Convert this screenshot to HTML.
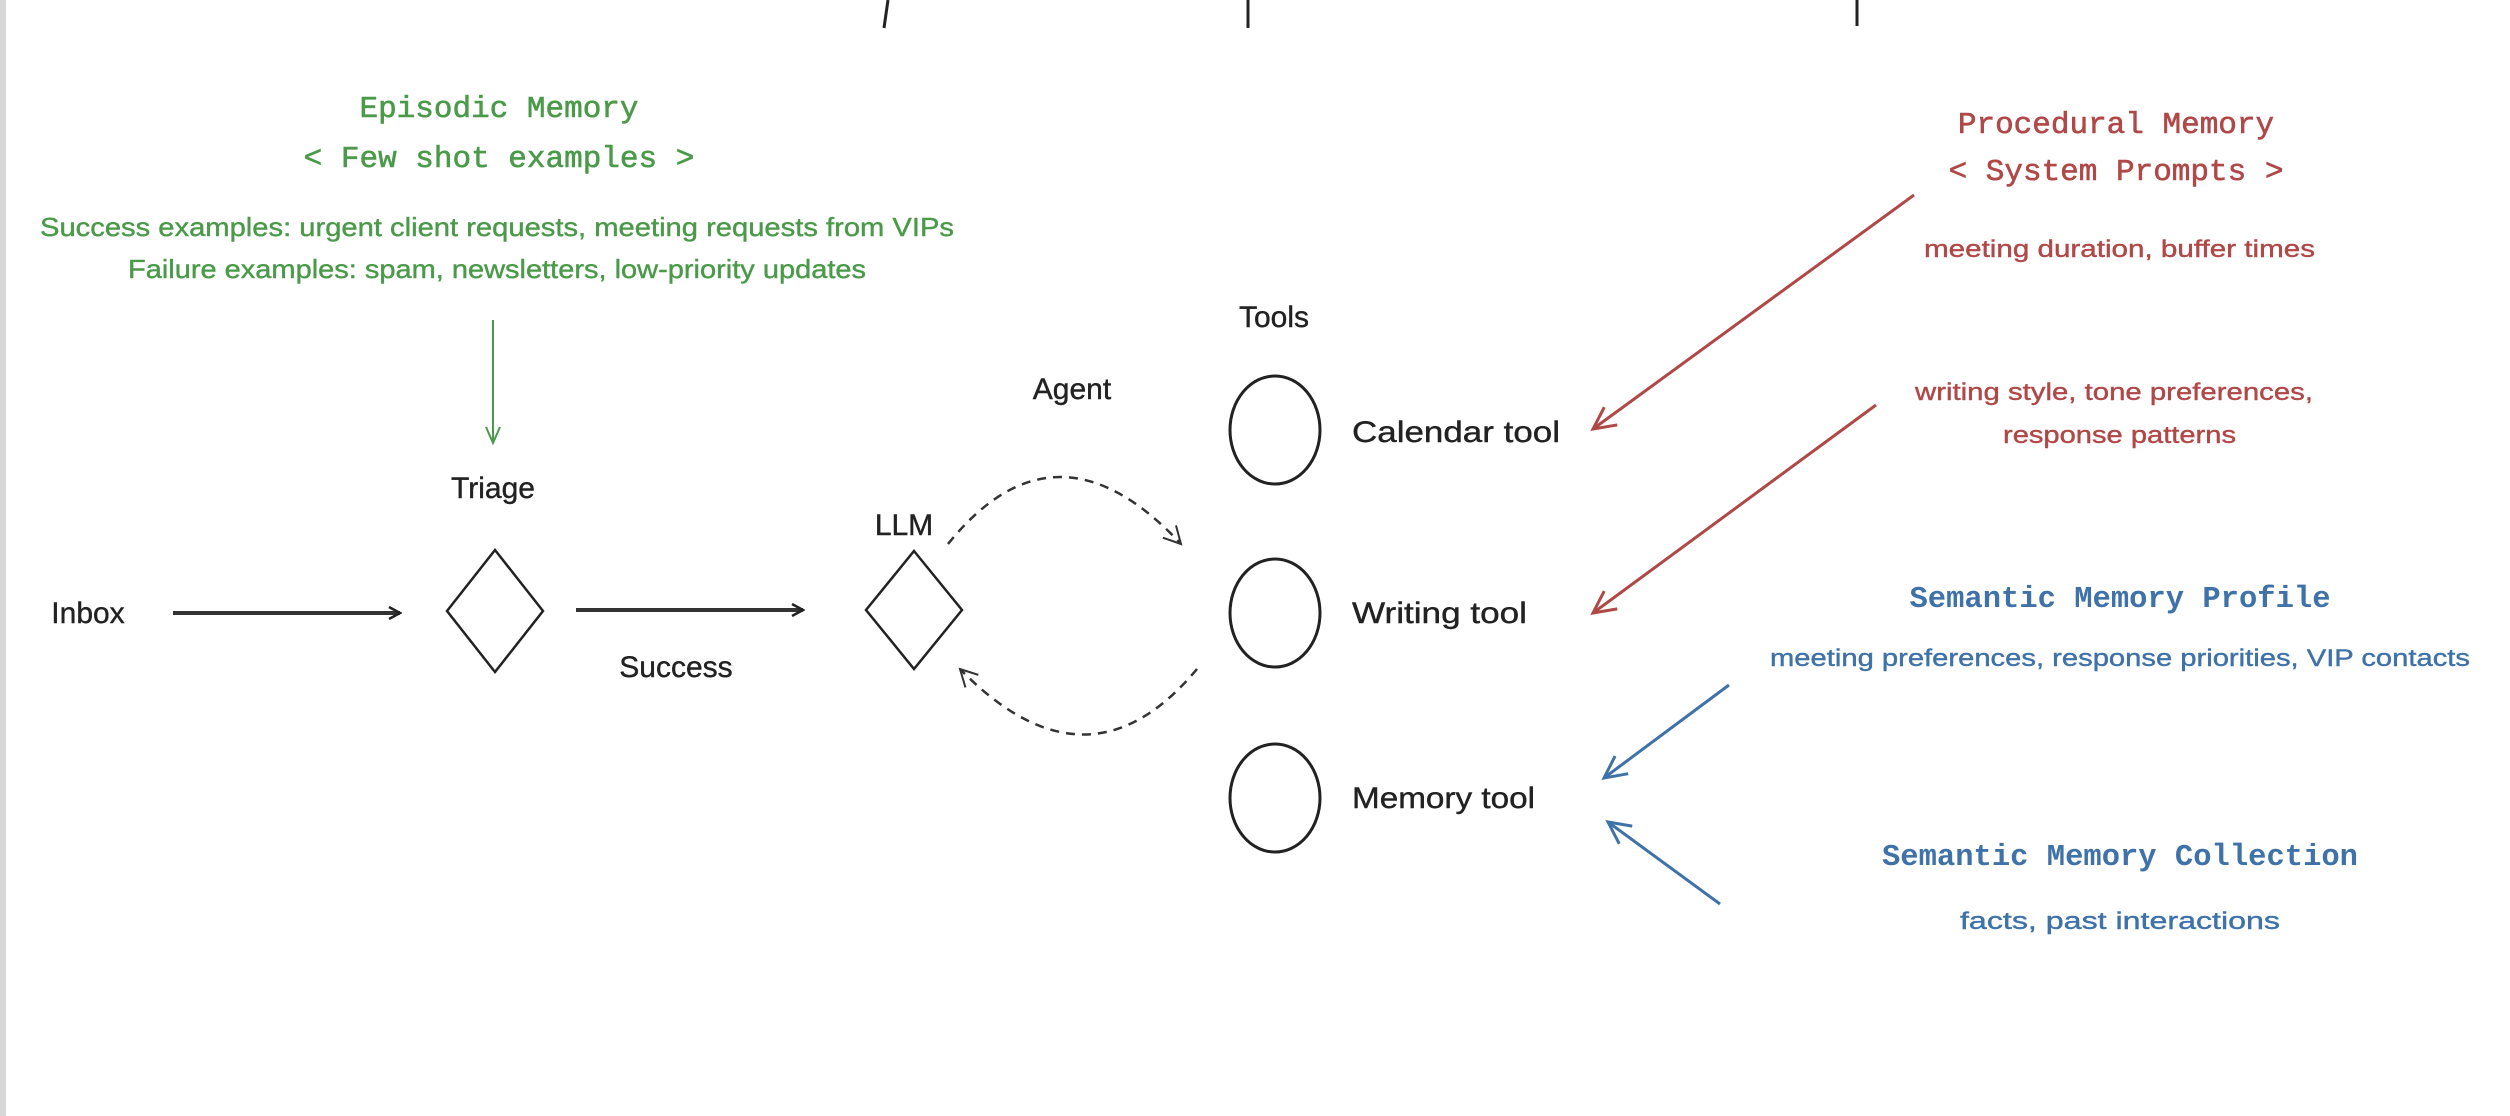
<!DOCTYPE html>
<html><head><meta charset="utf-8"><style>
html,body{margin:0;padding:0;background:#fff;}
svg{display:block;}
.mono{font-family:"Liberation Mono","DejaVu Sans Mono",monospace;}
.hand{font-family:"Liberation Sans",sans-serif;}
</style></head><body>
<svg width="2510" height="1116" viewBox="0 0 2510 1116" xmlns="http://www.w3.org/2000/svg">
<defs>
<marker id="ab" markerWidth="14" markerHeight="14" refX="12" refY="7" orient="auto" markerUnits="userSpaceOnUse"><path d="M1,1 L12,7 L1,13" fill="none" stroke="#222" stroke-width="2.5"/></marker>
<marker id="ag" markerWidth="20" markerHeight="20" refX="18" refY="10" orient="auto" markerUnits="userSpaceOnUse"><path d="M2,3 L18,10 L2,17" fill="none" stroke="#4a9a4a" stroke-width="2"/></marker>
<marker id="ar" markerWidth="30" markerHeight="30" refX="26" refY="15" orient="auto" markerUnits="userSpaceOnUse"><path d="M4,4 L26,15 L4,26" fill="none" stroke="#b04848" stroke-width="3"/></marker>
<marker id="abl" markerWidth="30" markerHeight="30" refX="26" refY="15" orient="auto" markerUnits="userSpaceOnUse"><path d="M4,4 L26,15 L4,26" fill="none" stroke="#3f72a8" stroke-width="3"/></marker>
<marker id="ad" markerWidth="24" markerHeight="24" refX="20" refY="12" orient="auto" markerUnits="userSpaceOnUse"><path d="M3,3 L20,12 L3,21" fill="none" stroke="#333" stroke-width="2"/></marker>
</defs>
<rect x="0" y="0" width="6" height="1116" fill="#d8d8d8"/>
<path d="M888,0 L884,28 M1248,0 L1248,28 M1857,0 L1857,26" stroke="#222" stroke-width="3"/>

<g class="mono" fill="#4a9a4a" text-anchor="middle" font-size="31" stroke="#4a9a4a" stroke-width="0.6">
<text x="499" y="117">Episodic Memory</text>
<text x="499" y="167">&lt; Few shot examples &gt;</text>
</g>
<g class="hand" fill="#4a9a4a" font-size="26" stroke="#4a9a4a" stroke-width="0.4">
<text x="40" y="236" textLength="914" lengthAdjust="spacingAndGlyphs">Success examples: urgent client requests, meeting requests from VIPs</text>
<text x="128" y="278" textLength="738" lengthAdjust="spacingAndGlyphs">Failure examples: spam, newsletters, low-priority updates</text>
</g>
<line x1="493" y1="320" x2="493" y2="443" stroke="#4a9a4a" stroke-width="2" marker-end="url(#ag)"/>

<g class="hand" fill="#222" font-size="30" stroke="#222" stroke-width="0.4">
<text x="493" y="498" text-anchor="middle">Triage</text>
<text x="88" y="623" text-anchor="middle">Inbox</text>
<text x="676" y="677" text-anchor="middle">Success</text>
<text x="904" y="535" text-anchor="middle">LLM</text>
<text x="1072" y="399" text-anchor="middle">Agent</text>
<text x="1274" y="327" text-anchor="middle">Tools</text>
<text x="1352" y="442" textLength="208" lengthAdjust="spacingAndGlyphs">Calendar tool</text>
<text x="1352" y="623" textLength="175" lengthAdjust="spacingAndGlyphs">Writing tool</text>
<text x="1352" y="808" textLength="183" lengthAdjust="spacingAndGlyphs">Memory tool</text>
</g>

<line x1="173" y1="613" x2="400" y2="613" stroke="#333" stroke-width="4" marker-end="url(#ab)"/>
<line x1="576" y1="610" x2="803" y2="610" stroke="#333" stroke-width="4" marker-end="url(#ab)"/>
<path d="M495,550 L543,611 L495,672 L447,611 Z" fill="none" stroke="#222" stroke-width="2.5"/>
<path d="M914,551 L962,610 L914,669 L866,610 Z" fill="none" stroke="#222" stroke-width="2.5"/>
<path d="M948,544 Q1056,410 1181,544" fill="none" stroke="#333" stroke-width="2.5" stroke-dasharray="9,7" marker-end="url(#ad)"/>
<path d="M1197,669 Q1088,800 960,669" fill="none" stroke="#333" stroke-width="2.5" stroke-dasharray="9,7" marker-end="url(#ad)"/>

<g fill="none" stroke="#222" stroke-width="3">
<ellipse cx="1275" cy="430" rx="45" ry="54"/>
<ellipse cx="1275" cy="613" rx="45" ry="54"/>
<ellipse cx="1275" cy="798" rx="45" ry="54"/>
</g>

<g class="mono" fill="#b04848" text-anchor="middle" font-size="31" stroke="#b04848" stroke-width="0.6">
<text x="2116" y="133">Procedural Memory</text>
<text x="2116" y="180">&lt; System Prompts &gt;</text>
</g>
<g class="hand" fill="#b04848" font-size="24" stroke="#b04848" stroke-width="0.4">
<text x="1924" y="257" textLength="391" lengthAdjust="spacingAndGlyphs">meeting duration, buffer times</text>
<text x="1915" y="400" textLength="398" lengthAdjust="spacingAndGlyphs">writing style, tone preferences,</text>
<text x="2003" y="443" textLength="233" lengthAdjust="spacingAndGlyphs">response patterns</text>
</g>
<line x1="1914" y1="195" x2="1593" y2="429" stroke="#b04848" stroke-width="3" marker-end="url(#ar)"/>
<line x1="1876" y1="405" x2="1593" y2="613" stroke="#b04848" stroke-width="3" marker-end="url(#ar)"/>

<g class="mono" fill="#3f72a8" text-anchor="middle" font-size="31" font-weight="bold">
<text x="2120" y="607" textLength="421" lengthAdjust="spacingAndGlyphs">Semantic Memory Profile</text>
<text x="2120" y="865" textLength="476" lengthAdjust="spacingAndGlyphs">Semantic Memory Collection</text>
</g>
<g class="hand" fill="#3f72a8" font-size="24" stroke="#3f72a8" stroke-width="0.4">
<text x="1770" y="666" textLength="700" lengthAdjust="spacingAndGlyphs">meeting preferences, response priorities, VIP contacts</text>
<text x="1960" y="929" textLength="320" lengthAdjust="spacingAndGlyphs">facts, past interactions</text>
</g>
<line x1="1729" y1="685" x2="1604" y2="778" stroke="#3f72a8" stroke-width="3" marker-end="url(#abl)"/>
<line x1="1720" y1="904" x2="1608" y2="822" stroke="#3f72a8" stroke-width="3" marker-end="url(#abl)"/>
</svg>
</body></html>
